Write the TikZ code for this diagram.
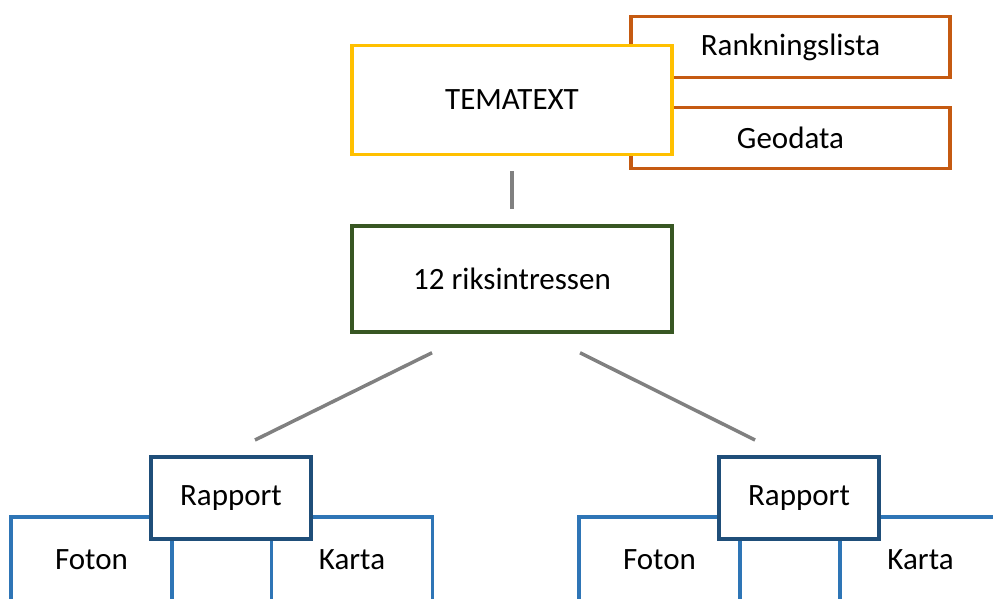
\documentclass[tikz,border=0pt]{standalone}
\usepackage{fontspec}
\setmainfont{Carlito}
\usepackage{tikz}
\usepackage{xcolor}
\definecolor{temagul}{HTML}{FFC000}
\definecolor{dataorange}{HTML}{C55A11}
\definecolor{riksgron}{HTML}{385723}
\definecolor{rapportbla}{HTML}{1F4E79}
\definecolor{bilagabla}{HTML}{2E75B6}
\tikzset{
    plain-box/.style = {rectangle, fill=white, text=black, inner sep=0pt, font=\fontsize{31}{37}\selectfont},
    tema-box/.style = {plain-box, draw=temagul, line width=3.5pt, minimum width=320pt, minimum height=109pt},
    data-box/.style = {plain-box, draw=dataorange, line width=3.5pt, minimum width=319pt, minimum height=61pt},
    riks-box/.style = {plain-box, draw=riksgron, line width=3.5pt, minimum width=320pt, minimum height=106pt},
    rapport-box/.style = {plain-box, draw=rapportbla, line width=4pt, minimum width=160pt, minimum height=82pt},
    bilaga-box/.style = {plain-box, draw=bilagabla, line width=3.5pt, minimum width=161pt, minimum height=86pt},
    link-line/.style = {draw=gray, line width=3.5pt},
}

\begin{document}
\begin{tikzpicture}[x=1pt,y=-1pt]
\clip (0,0) rectangle (993,599);
% uppgifter bakom temat
\node [data-box] (rank) at (790.5,47) {Rankningslista};
\node [data-box] (geo) at (790.5,138) {Geodata};
\node [tema-box] (tema) at (512,100) {TEMATEXT};
\node [riks-box] (riks) at (512,279) {12 riksintressen};
\draw [link-line, shorten <=15pt, shorten >=15pt] (tema) -- (riks);
% vänster gren
\node [bilaga-box] (fotonL) at (91.5,560) {Foton};
\node [bilaga-box] (kartaL) at (352,560) {Karta};
\node [rapport-box] (rapL) at (231,498) {\raisebox{-2pt}{Rapport}};
% höger gren
\node [bilaga-box] (fotonR) at (659.5,560) {Foton};
\node [bilaga-box] (kartaR) at (920.5,560) {Karta};
\node [rapport-box] (rapR) at (799,498) {\raisebox{-2pt}{Rapport}};
\draw [link-line] ([xshift=-80pt,yshift=-19pt]riks.south) -- ([xshift=24pt,yshift=15pt]rapL.north);
\draw [link-line] ([xshift=68pt,yshift=-19pt]riks.south) -- ([xshift=-44pt,yshift=15pt]rapR.north);
\end{tikzpicture}
\end{document}
